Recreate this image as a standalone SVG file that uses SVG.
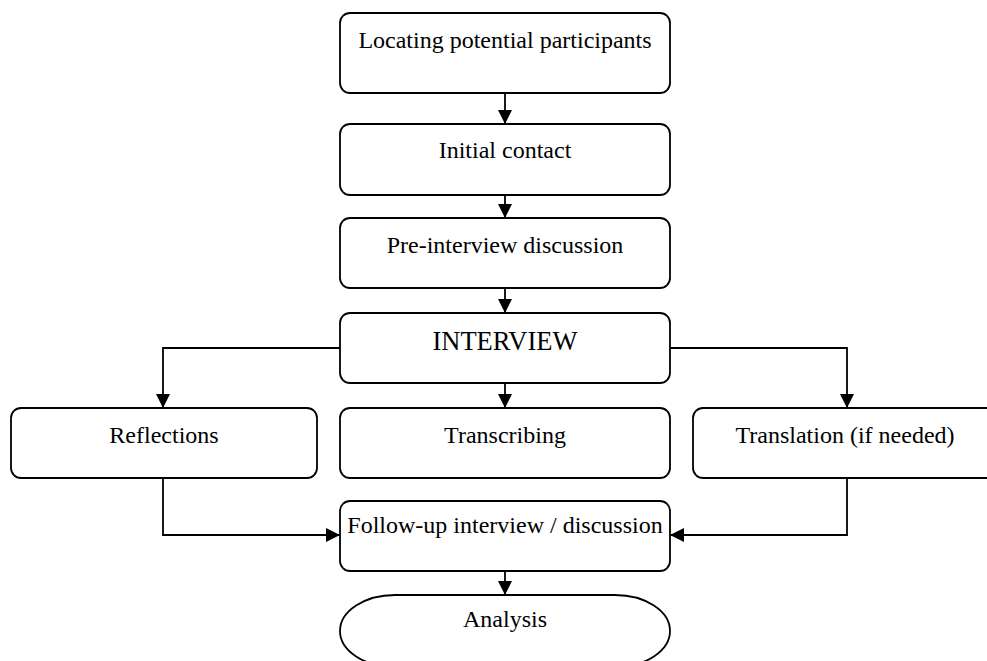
<svg xmlns="http://www.w3.org/2000/svg" width="987" height="661" viewBox="0 0 987 661">
<defs>
<style>
.box{fill:#fff;stroke:#000;stroke-width:1.8}
.t{font-family:"Liberation Serif","Times New Roman",serif;font-size:24px;text-anchor:middle;fill:#000}
.big{font-size:26.5px}
.c{fill:none;stroke:#000;stroke-width:1.8}
</style>
<marker id="ah" viewBox="0 0 14 14" refX="14" refY="7" markerWidth="14" markerHeight="14" markerUnits="userSpaceOnUse" orient="auto">
<path d="M0,0 L14,7 L0,14 Z" fill="#000"/>
</marker>
</defs>
<rect width="987" height="661" fill="#fff"/>
<g id="connectors">
<path class="c" d="M505,93 V124" marker-end="url(#ah)"/>
<path class="c" d="M505,195 V218" marker-end="url(#ah)"/>
<path class="c" d="M505,288 V313" marker-end="url(#ah)"/>
<path class="c" d="M340,348 H163 V408" marker-end="url(#ah)"/>
<path class="c" d="M670,348 H847 V408" marker-end="url(#ah)"/>
<path class="c" d="M505,383 V408" marker-end="url(#ah)"/>
<path class="c" d="M163,478 V535 H340" marker-end="url(#ah)"/>
<path class="c" d="M847,478 V535 H670" marker-end="url(#ah)"/>
<path class="c" d="M505,571 V595" marker-end="url(#ah)"/>
</g>
<g id="n1"><rect class="box" x="340" y="13" width="330" height="80" rx="10"/><text class="t" x="505" y="48">Locating potential participants</text></g>
<g id="n2"><rect class="box" x="340" y="124" width="330" height="71" rx="10"/><text class="t" x="505" y="158">Initial contact</text></g>
<g id="n3"><rect class="box" x="340" y="218" width="330" height="70" rx="10"/><text class="t" x="505" y="253">Pre-interview discussion</text></g>
<g id="n4"><rect class="box" x="340" y="313" width="330" height="70" rx="10"/><text class="t big" x="505" y="350">INTERVIEW</text></g>
<g id="n5"><rect class="box" x="11" y="408" width="306" height="70" rx="10"/><text class="t" x="164" y="443">Reflections</text></g>
<g id="n6"><rect class="box" x="340" y="408" width="330" height="70" rx="10"/><text class="t" x="505" y="443">Transcribing</text></g>
<g id="n7"><rect class="box" x="693" y="408" width="308" height="70" rx="10"/><text class="t" x="845" y="443">Translation (if needed)</text></g>
<g id="n8"><rect class="box" x="340" y="501" width="330" height="70" rx="10"/><text class="t" x="505" y="533">Follow-up interview / discussion</text></g>
<g id="n9"><rect class="box" x="340" y="595" width="330" height="72" rx="55" ry="36"/><text class="t" x="505" y="627">Analysis</text></g>
</svg>
